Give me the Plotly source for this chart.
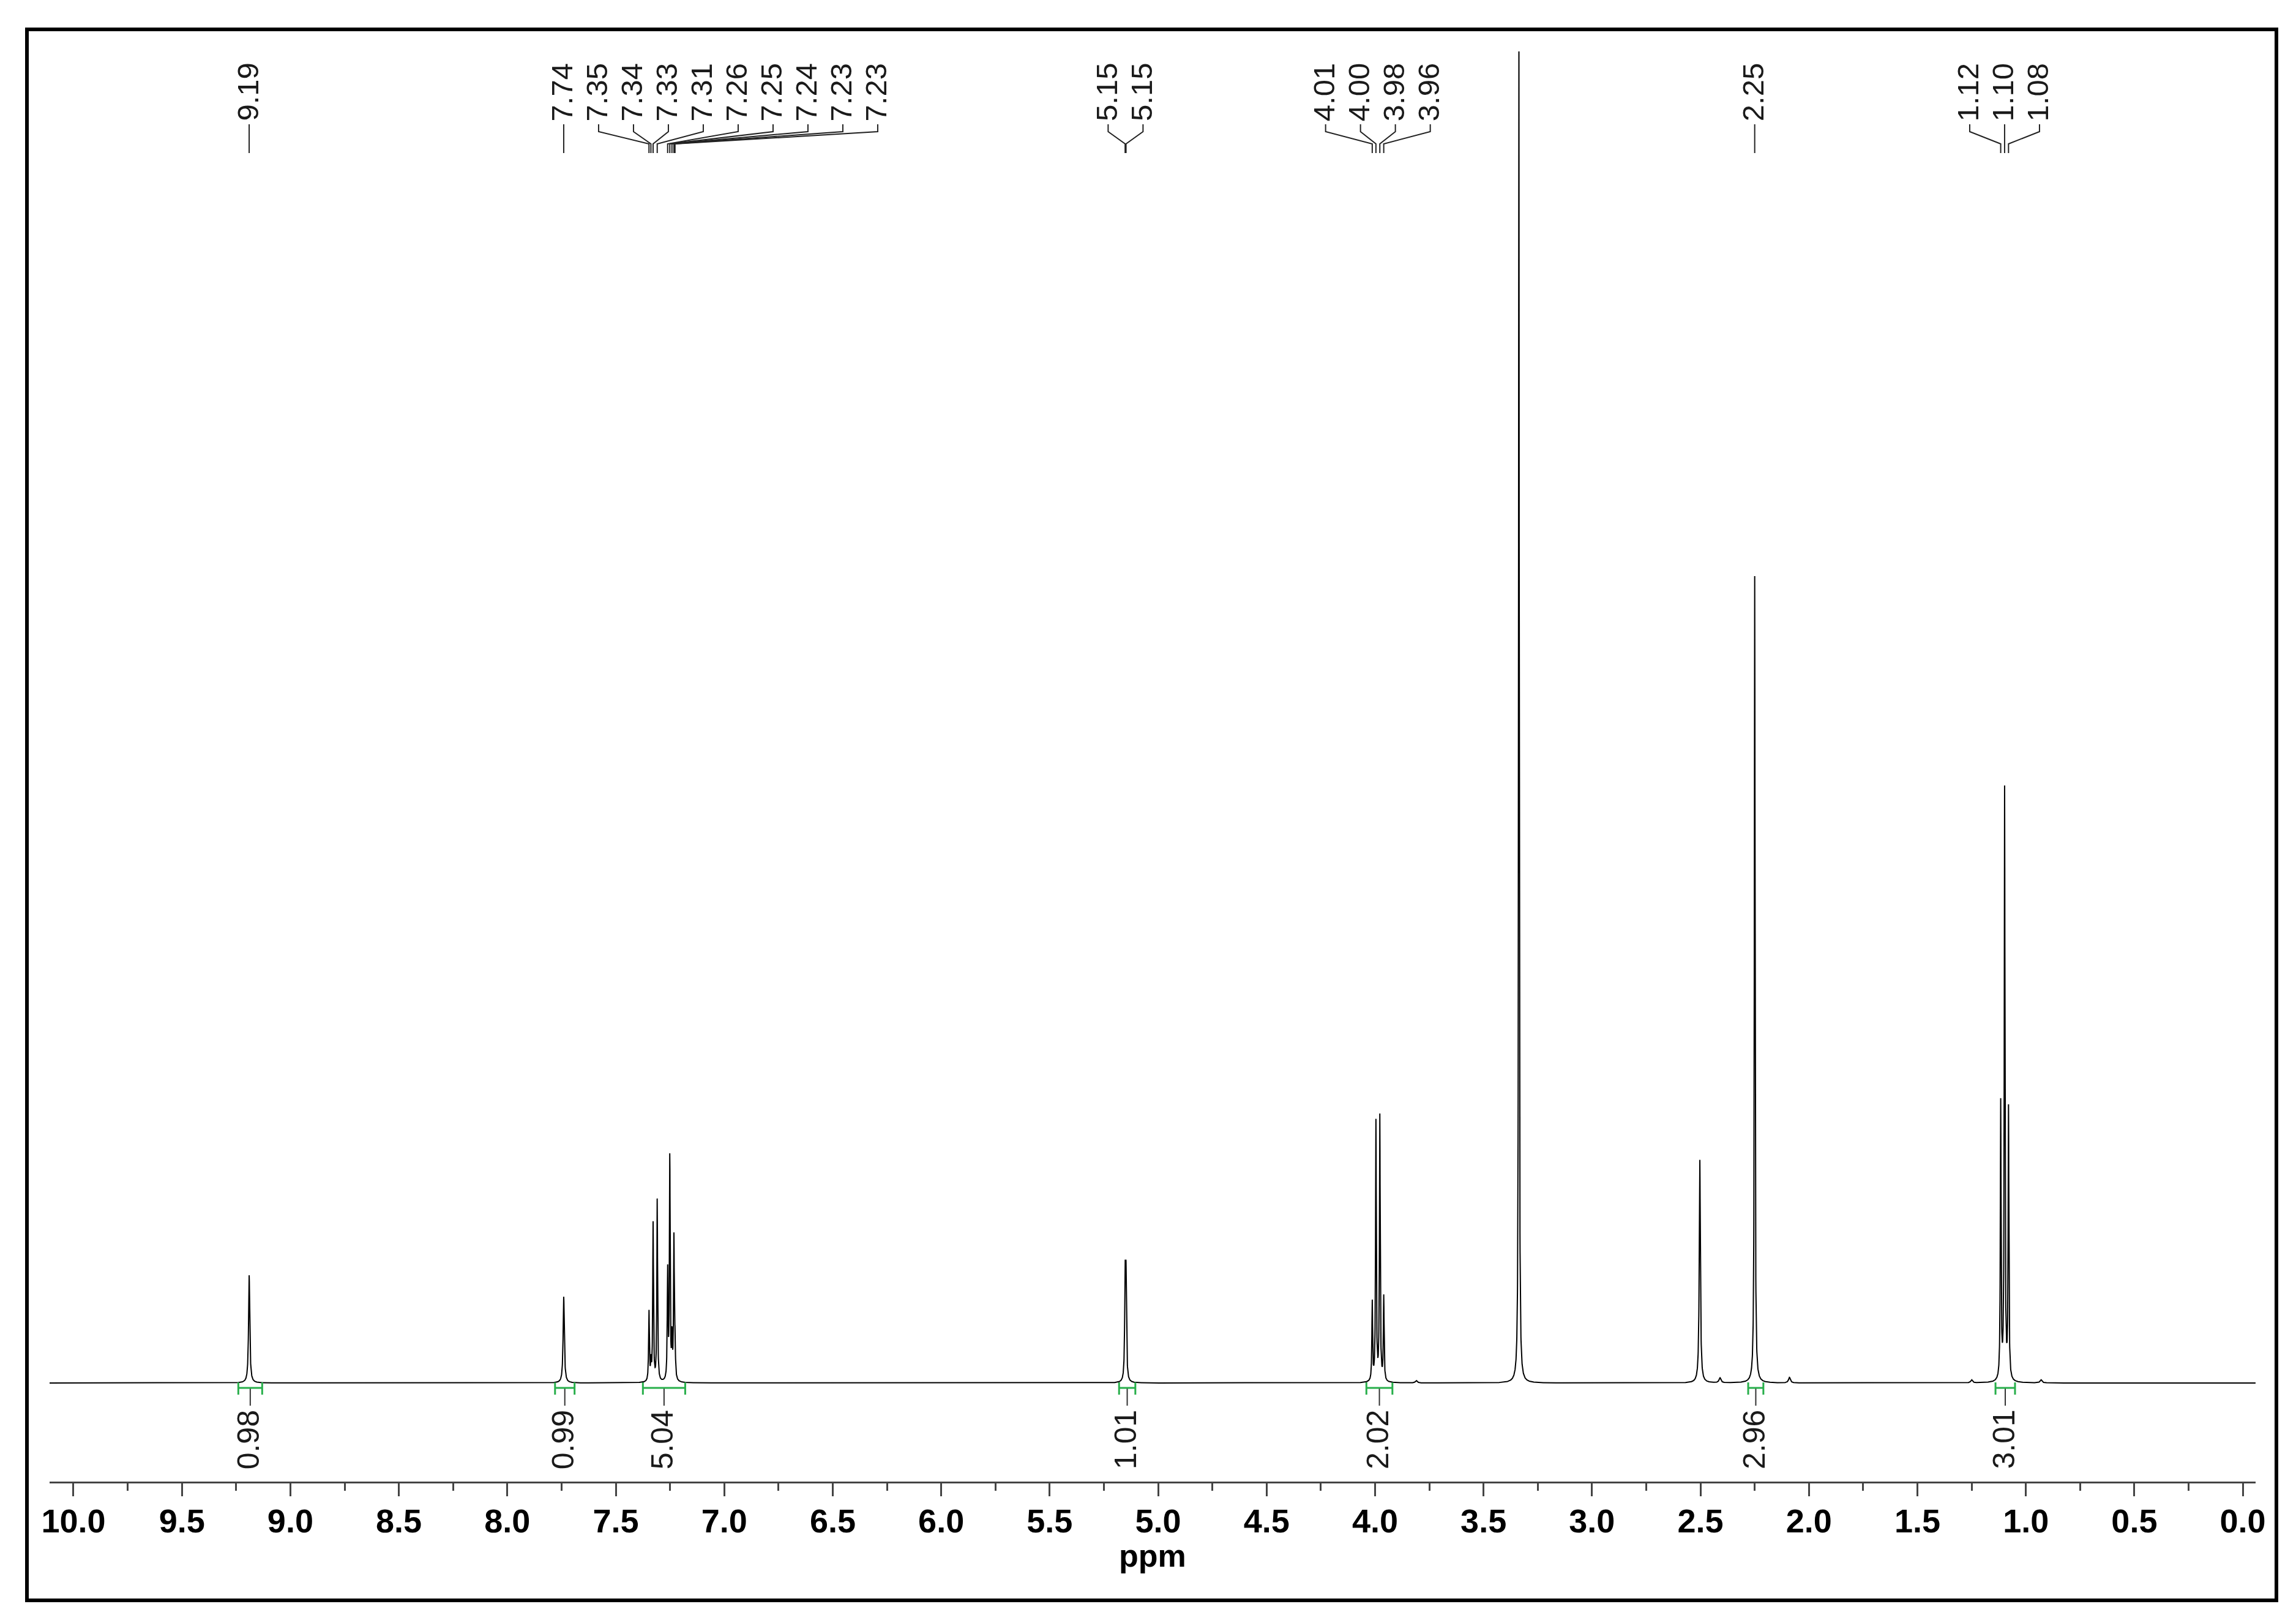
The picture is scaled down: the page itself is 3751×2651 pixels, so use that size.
import numpy as np
import plotly.graph_objects as go

# ---- data ----
# peak list: shift (ppm), height above baseline (px units of the image), line width (ppm)
peak_ppm = [9.190, 7.740, 7.347, 7.338, 7.328, 7.309, 7.261, 7.251, 7.241, 7.232, 7.227,
            5.152, 5.148, 4.013, 3.996, 3.978, 3.960, 3.337, 2.503, 2.250,
            1.116, 1.098, 1.080, 3.810, 2.410, 2.090, 1.250, 0.930]
peak_height = [176, 141, 115, 30, 258, 300, 178, 366, 65, 230, 55,
               155, 155, 130, 424, 433, 138, 2250, 366, 1318,
               452, 965, 442, 4, 8, 9, 5, 5]
peak_width = [0.0065, 0.0065, 0.004, 0.004, 0.004, 0.004, 0.004, 0.004, 0.004, 0.004, 0.004,
              0.005, 0.005, 0.004, 0.004, 0.004, 0.004, 0.0035, 0.006, 0.004,
              0.004, 0.004, 0.004, 0.01, 0.01, 0.01, 0.01, 0.01]

# peak labels (ppm), grouped by multiplet
label_groups = [
    [9.190],
    [7.740],
    [7.347, 7.338, 7.328, 7.309, 7.261, 7.251, 7.241, 7.232, 7.227],
    [5.152, 5.148],
    [4.013, 3.996, 3.978, 3.960],
    [2.250],
    [1.116, 1.098, 1.080],
]

# integrals
integral_from = [9.24, 7.78, 7.375, 5.18, 4.04, 2.28, 1.14]
integral_to = [9.13, 7.69, 7.18, 5.105, 3.92, 2.21, 1.05]
integral_text = ["0.98", "0.99", "5.04", "1.01", "2.02", "2.96", "3.01"]

X_MAX, X_MIN = 10.11, -0.059

# ---- page geometry (pixels) ----
W, H = 3751, 2651
PL, PR = 73, 3677          # x-axis extent
PT, PB = 76, 2412          # plot top / axis line
BASE = 2251                # baseline of the spectrum
PX_PER_PPM = (PR - PL) / (X_MAX - X_MIN)


def yd(py):
    # page pixel row -> data y (baseline = 0, up = positive)
    return BASE - py


def paper_x(px):
    return (px - PL) / (PR - PL)


def paper_y(py):
    return (PB - py) / (PB - PT)


# ---- spectrum trace ----
ppm = np.arange(X_MAX, X_MIN, -0.0004)
intensity = np.zeros_like(ppm)
for p, h, w in zip(peak_ppm, peak_height, peak_width):
    intensity += h / (1 + ((ppm - p) / (w / 2)) ** 2)

fig = go.Figure()
fig.add_trace(go.Scatter(x=ppm, y=intensity, mode="lines",
                         line=dict(color="black", width=2), hoverinfo="skip", showlegend=False))

# ---- peak labels with fan connectors ----
spacing = 57 / PX_PER_PPM
label_x = []
prev = None
for grp in label_groups:
    n = len(grp)
    start = np.mean(grp) + (n - 1) / 2 * spacing
    if prev is not None and start > prev - spacing:
        start = prev - spacing
    xs = [start - i * spacing for i in range(n)]
    label_x.append(xs)
    prev = xs[-1]

cx, cy = [], []
for grp, xs in zip(label_groups, label_x):
    for p, lx in zip(grp, xs):
        cx += [lx, lx, p, p, None]
        cy += [yd(195), yd(207), yd(227), yd(242), None]
        fig.add_annotation(x=lx, y=yd(191), xref="x", yref="y", text=f"{p:.2f}",
                           textangle=-90, showarrow=False, xanchor="center", yanchor="bottom",
                           xshift=-3, borderpad=0,
                           font=dict(family="Arial, Liberation Sans", size=49, color="#1a1a1a"))
fig.add_trace(go.Scatter(x=cx, y=cy, mode="lines", line=dict(color="#222222", width=2),
                         hoverinfo="skip", showlegend=False))

# ---- integrals ----
green = "rgb(40,175,75)"
tx, ty = [], []
for a, b, t in zip(integral_from, integral_to, integral_text):
    mid = (a + b) / 2
    fig.add_shape(type="line", x0=a, x1=b, y0=yd(2259), y1=yd(2259), xref="x", yref="y",
                  line=dict(color=green, width=3))
    for e in (a, b):
        fig.add_shape(type="line", x0=e, x1=e, y0=yd(2250), y1=yd(2270), xref="x", yref="y",
                      line=dict(color=green, width=3))
    tx += [mid, mid, None]
    ty += [yd(2259), yd(2288), None]
    fig.add_annotation(x=mid, y=yd(2294), xref="x", yref="y", text=t, textangle=-90,
                       showarrow=False, xanchor="center", yanchor="top", xshift=-3, borderpad=0,
                       font=dict(family="Arial, Liberation Sans", size=50, color="#1a1a1a"))
fig.add_trace(go.Scatter(x=tx, y=ty, mode="lines", line=dict(color="#333333", width=2),
                         hoverinfo="skip", showlegend=False))

# ---- axis title and outer frame ----
fig.add_annotation(x=0.5, y=paper_y(2533), xref="paper", yref="paper", text="<b>ppm</b>",
                   showarrow=False, xanchor="center", yanchor="middle",
                   font=dict(family="Arial, Liberation Sans", size=52, color="black"))
fig.add_shape(type="rect", xref="paper", yref="paper",
              x0=paper_x(36), x1=paper_x(3711), y0=paper_y(40), y1=paper_y(2606),
              line=dict(color="black", width=6))

fig.update_layout(
    width=W, height=H,
    margin=dict(l=PL, r=W - PR, t=PT, b=H - PB, pad=0),
    paper_bgcolor="white", plot_bgcolor="white",
    xaxis=dict(range=[X_MAX, X_MIN], showgrid=False, zeroline=False,
               showline=True, linecolor="#444444", linewidth=3,
               ticks="outside", ticklen=21, tickwidth=3, tickcolor="#444444",
               tick0=0, dtick=0.5, tickformat=".1f", ticklabelstandoff=-6,
               tickfont=dict(family="Arial, Liberation Sans", size=54, color="black", weight="bold"),
               minor=dict(dtick=0.25, tick0=0, ticks="outside", ticklen=12, tickwidth=3,
                          tickcolor="#444444", showgrid=False)),
    yaxis=dict(range=[yd(PB), yd(PT)], visible=False, showgrid=False, zeroline=False),
)

fig.write_html("out.html")
